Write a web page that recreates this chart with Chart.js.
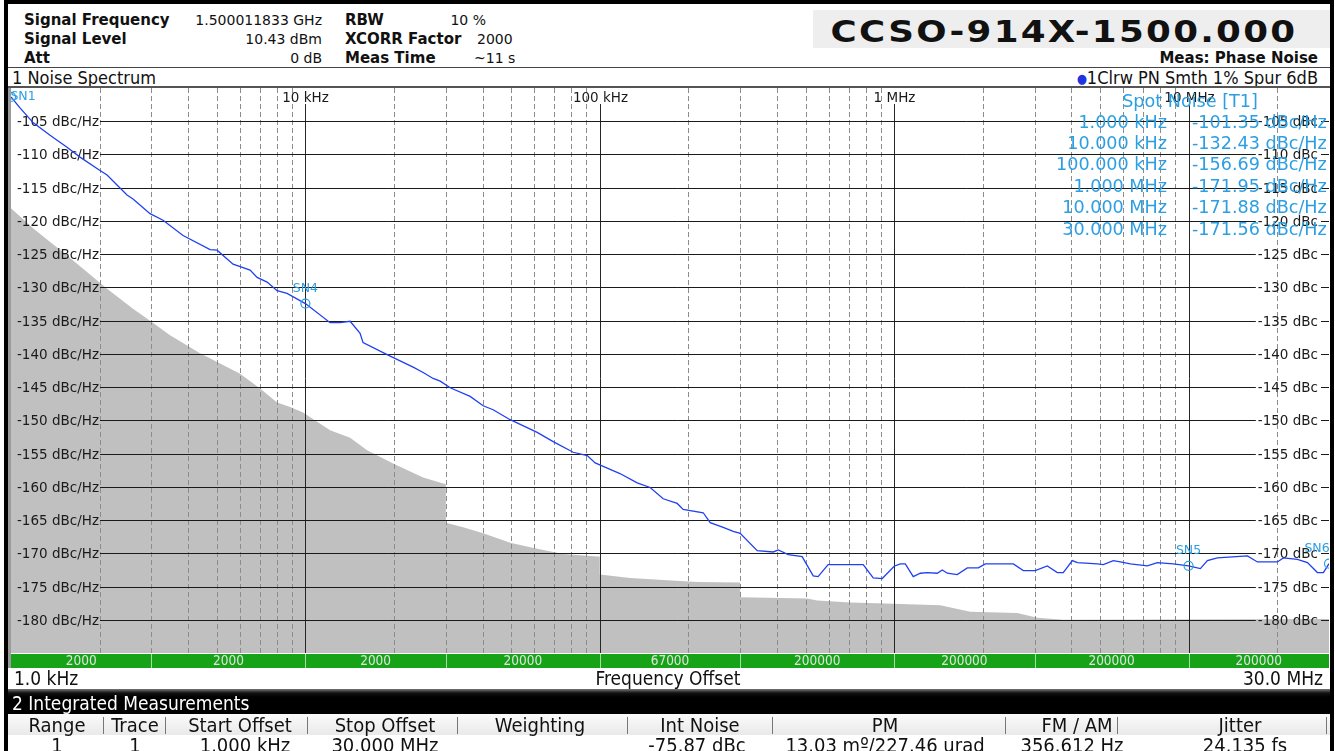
<!DOCTYPE html>
<html>
<head>
<meta charset="utf-8">
<title>CCSO-914X-1500.000 Phase Noise</title>
<script src="https://cdn.jsdelivr.net/npm/chart.js@4.4.1/dist/chart.umd.min.js"></script>
<style>
  body { margin: 0; background: #fff; }
  #page { position: relative; width: 1335px; height: 751px; overflow: hidden; background: #fff;
          font-family: "DejaVu Sans", sans-serif; color: #111; }
  .abs { position: absolute; white-space: nowrap; }
  .hd { font-size: 14px; line-height: 18px; }
  .b { font-weight: bold; font-size: 15px; }
  .ui { font-family: "DejaVu Sans Condensed", "Liberation Sans Narrow", "Liberation Sans", sans-serif; }
  .c { width: 240px; text-align: center; font-size: 20px; line-height: 22px; }
  .sep { position: absolute; top: 717px; width: 1px; height: 17px; background: #777; }
</style>
</head>
<body>
<div id="page">
  <!-- outer frame -->
  <div class="abs" style="left:4px;top:0;width:1330px;height:4px;background:#000"></div>
  <div class="abs" style="left:4px;top:0;width:4px;height:751px;background:#000"></div>
  <div class="abs" style="left:1330px;top:0;width:4px;height:751px;background:#000"></div>

  <!-- header -->
  <div class="abs hd b" style="left:24px;top:11px">Signal Frequency</div>
  <div class="abs hd" style="right:1013px;top:11px">1.500011833 GHz</div>
  <div class="abs hd b" style="left:24px;top:30px">Signal Level</div>
  <div class="abs hd" style="right:1013px;top:30px">10.43 dBm</div>
  <div class="abs hd b" style="left:24px;top:49px">Att</div>
  <div class="abs hd" style="right:1013px;top:49px">0 dB</div>
  <div class="abs hd b" style="left:345px;top:11px">RBW</div>
  <div class="abs hd" style="right:849px;top:11px">10 %</div>
  <div class="abs hd b" style="left:345px;top:30px">XCORR Factor</div>
  <div class="abs hd" style="left:477px;top:30px">2000</div>
  <div class="abs hd b" style="left:345px;top:49px">Meas Time</div>
  <div class="abs hd" style="left:474px;top:49px">~11 s</div>

  <div class="abs" style="left:813px;top:10px;width:517px;height:38px;background:#eeeeee"></div>
  <div class="abs" style="left:1064px;top:12px;font-weight:bold;font-size:31px;line-height:38px;letter-spacing:2px;transform:translateX(-50%) scaleX(1.15);color:#111">CCSO-914X-1500.000</div>
  <div class="abs hd b" style="right:17px;top:49px">Meas: Phase Noise</div>

  <div class="abs" style="left:8px;top:67px;width:1322px;height:1px;background:#444"></div>
  <div class="abs ui" style="left:12px;top:68px;font-size:18px;line-height:20px">1 Noise Spectrum</div>
  <div class="abs ui" style="right:17px;top:68px;font-size:18px;line-height:20px"><span style="color:#2233dd;font-size:13px;vertical-align:1px">●</span>1Clrw PN Smth 1% Spur 6dB</div>
  <div class="abs" style="left:8px;top:86px;width:1322px;height:2px;background:#555"></div>
  <div class="abs" style="left:8px;top:88px;width:3px;height:580px;background:#9a9a9a"></div>

  <div class="abs" style="left:11px;top:88px;width:1318px;height:580px">
    <canvas id="pn" width="1318" height="580"></canvas>
  </div>

  <!-- x axis caption row -->
  <div class="abs ui" style="left:14px;top:667px;font-size:19px;line-height:22px">1.0 kHz</div>
  <div class="abs ui" style="left:568px;top:667px;width:200px;text-align:center;font-size:19px;line-height:22px">Frequency Offset</div>
  <div class="abs ui" style="right:12px;top:667px;font-size:19px;line-height:22px">30.0 MHz</div>

  <!-- integrated measurements -->
  <div class="abs" style="left:8px;top:689px;width:1322px;height:25px;background:linear-gradient(#777 0px,#111 4px,#000 8px,#000)"></div>
  <div class="abs ui" style="left:12px;top:692px;font-size:19px;line-height:22px;color:#fff">2 Integrated Measurements</div>
  <div class="abs" style="left:8px;top:714px;width:1322px;height:21px;background:linear-gradient(#fbfbfb,#e9e9e9)"></div>

  <div class="abs ui c" style="left:-63px;top:714px">Range</div>
  <div class="abs ui c" style="left:15px;top:714px">Trace</div>
  <div class="abs ui c" style="left:120px;top:714px">Start Offset</div>
  <div class="abs ui c" style="left:265px;top:714px">Stop Offset</div>
  <div class="abs ui c" style="left:420px;top:714px">Weighting</div>
  <div class="abs ui c" style="left:580px;top:714px">Int Noise</div>
  <div class="abs ui c" style="left:765px;top:714px">PM</div>
  <div class="abs ui c" style="left:957px;top:714px">FM / AM</div>
  <div class="abs ui c" style="left:1120px;top:714px">Jitter</div>
  <div class="sep" style="left:103px"></div>
  <div class="sep" style="left:165px"></div>
  <div class="sep" style="left:307px"></div>
  <div class="sep" style="left:457px"></div>
  <div class="sep" style="left:627px"></div>
  <div class="sep" style="left:772px"></div>
  <div class="sep" style="left:1005px"></div>
  <div class="sep" style="left:1117px"></div>
  <div class="sep" style="left:1326px"></div>

  <div class="abs ui c" style="left:-63px;top:734px">1</div>
  <div class="abs ui c" style="left:15px;top:734px">1</div>
  <div class="abs ui c" style="left:125px;top:734px">1.000 kHz</div>
  <div class="abs ui c" style="left:265px;top:734px">30.000 MHz</div>
  <div class="abs ui c" style="left:577px;top:734px">-75.87 dBc</div>
  <div class="abs ui c" style="left:765px;top:734px">13.03 mº/227.46 urad</div>
  <div class="abs ui c" style="left:952px;top:734px">356.612 Hz</div>
  <div class="abs ui c" style="left:1125px;top:734px">24.135 fs</div>
</div>

<script>
// trace 1: phase noise, offset frequency in Hz, level in dBc/Hz
const traceFreq = [
  1000, 1073, 1188, 1357, 1550, 1716, 2006, 2120, 2292, 2478, 2597, 2967, 3285, 3841, 4746, 5012,
  5680, 6490, 6855, 7413, 8014, 8665, 10000, 12130, 13120, 14190, 15340, 15700, 18950, 23230, 25120,
  27160, 28710, 31040, 36270, 40170, 43430, 49610, 61290, 69450, 81220, 90630, 96470, 100000,
  117100, 134000, 148300, 164200, 183200, 192000, 224600, 237200, 262600, 284000, 299900, 342600,
  388400, 403900, 436600, 486900, 530900, 551600, 596600, 785000, 849000, 911000, 1000000, 1049000,
  1091000, 1161000, 1227000, 1296000, 1401000, 1457000, 1515000, 1638000, 1772000, 1931000,
  2040000, 2349000, 2540000, 2746000, 3016000, 3313000, 3583000, 3754000, 4030000, 4191000,
  4898000, 5134000, 5552000, 5865000, 6343000, 7244000, 7834000, 8879000, 10000000, 10970000,
  11590000, 12530000, 15850000, 17140000, 20040000, 21000000, 23430000, 25350000, 27400000,
  28710000, 30000000
];
const traceLevel = [
  -101.35, -103.0, -105.2, -107.1, -108.9, -110.4, -112.4, -113.1, -114.6, -116.1, -116.7, -118.9, -119.9, -122.2, -124.3, -124.4,
  -126.5, -127.4, -128.5, -129.2, -130.5, -130.9, -132.43, -135.3, -135.3, -135.1, -136.9, -138.3, -140.1, -142.0, -142.8,
  -143.7, -144.1, -145.1, -146.4, -147.8, -148.4, -149.9, -151.8, -153.2, -154.8, -155.3, -156.4, -156.69,
  -158.0, -159.4, -160.1, -161.8, -162.5, -163.4, -163.9, -165.4, -166.1, -166.7, -167.0, -169.6,
  -169.8, -169.5, -170.2, -170.5, -173.4, -173.5, -171.7, -171.7, -173.7, -173.8, -171.95, -171.6,
  -171.6, -173.5, -173.0, -172.9, -173.0, -172.5, -173.0, -173.2, -172.2, -172.2,
  -171.6, -171.6, -171.6, -172.6, -172.6, -171.9, -172.9, -172.9, -171.1, -171.4,
  -171.6, -171.7, -171.1, -171.3, -171.6, -171.9, -171.4, -171.6, -171.88, -172.3,
  -171.1, -170.7, -170.4, -171.3, -171.3, -170.7, -170.9, -171.4, -172.9,
  -172.9, -171.56
];

// cross-correlation floor (grey area)
const floorFreq = [
  1000, 1188, 1550, 1812, 2120, 2597, 2967, 3470, 4387, 6001, 7018, 8014, 8872, 9822, 12130, 14190,
  16200, 19860, 25120, 29380, 30000, 30000, 34350, 40170, 49610, 61290, 75080, 98000, 100000, 100000,
  126900, 164200, 214300, 295300, 300000, 300000, 370600, 506800, 547900, 709300, 993000, 1434000,
  1814000, 2620000, 3064000, 3754000, 30000000
];
const floorLevel = [
  -118.1, -121.1, -125.2, -127.7, -130.2, -133.2, -135.0, -137.2, -139.9, -143.0, -145.2, -147.3, -148.0, -148.8, -151.5, -152.6,
  -154.5, -156.5, -158.6, -159.5, -159.6, -165.4, -166.1, -167.0, -168.4, -169.3, -170.1, -170.5, -170.5, -173.2,
  -173.7, -174.0, -174.3, -174.4, -174.4, -176.6, -176.7, -176.8, -177.1, -177.4, -177.6, -177.8,
  -178.8, -179.0, -179.7, -180.0, -179.9
];

const minorGridFreq = [
  2000, 3000, 4000, 5000, 6000, 7000, 8000, 9000,
  20000, 30000, 40000, 50000, 60000, 70000, 80000, 90000,
  200000, 300000, 400000, 500000, 600000, 700000, 800000, 900000,
  2000000, 3000000, 4000000, 5000000, 6000000, 7000000, 8000000, 9000000,
  20000000
];
const decadeFreq = [10000, 100000, 1000000, 10000000];
const decadeLabels = ['10 kHz', '100 kHz', '1 MHz', '10 MHz'];
const levelTicks = [-105, -110, -115, -120, -125, -130, -135, -140, -145, -150, -155, -160, -165, -170, -175, -180];

const spotFreqLabels = ['1.000 kHz', '10.000 kHz', '100.000 kHz', '1.000 MHz', '10.000 MHz', '30.000 MHz'];
const spotLevels = [-101.35, -132.43, -156.69, -171.95, -171.88, -171.56];

const markerNames = ['SN1', 'SN4', 'SN5', 'SN6'];
const markerFreq = [1000, 10000, 10000000, 30000000];
const markerLevel = [-101.35, -132.43, -171.88, -171.56];

const rbwEdges = [1000, 3000, 10000, 30000, 100000, 300000, 1000000, 3000000, 10000000, 30000000];
const rbwLabels = ['2000', '2000', '2000', '20000', '67000', '200000', '200000', '200000', '200000'];

const SANS = '"DejaVu Sans", sans-serif';
const COND = '"DejaVu Sans Condensed", "Liberation Sans Narrow", "Liberation Sans", sans-serif';
const MARK_BLUE = '#2b9fe2';

function seg(ctx, x1, y1, x2, y2) {
  ctx.beginPath();
  ctx.moveTo(x1, y1);
  ctx.lineTo(x2, y2);
  ctx.stroke();
}

// grid and axis labels sit on top of the grey floor but under the trace
function drawGrid(chart) {
  const { ctx, chartArea: a, scales: { x, y } } = chart;
  ctx.save();
  ctx.lineWidth = 1;

  ctx.strokeStyle = '#8c8c8c';
  ctx.setLineDash([5, 3]);
  minorGridFreq.forEach(f => {
    const px = Math.round(x.getPixelForValue(f)) + 0.5;
    seg(ctx, px, a.top, px, a.bottom);
  });
  ctx.setLineDash([]);

  ctx.font = '13.5px ' + SANS;
  ctx.fillStyle = '#1a1a1a';
  ctx.textBaseline = 'middle';

  ctx.strokeStyle = '#262626';
  ctx.textAlign = 'center';
  decadeFreq.forEach((f, i) => {
    const px = Math.round(x.getPixelForValue(f)) + 0.5;
    seg(ctx, px, a.top + 16, px, a.bottom);
    ctx.fillText(decadeLabels[i], px, a.top + 10);
  });

  levelTicks.forEach(v => {
    const py = Math.round(y.getPixelForValue(v)) + 0.5;
    const leftTxt = v + ' dBc/Hz';
    const rightTxt = v + ' dBc';
    ctx.textAlign = 'left';
    ctx.fillText(leftTxt, a.left + 6, py + 1);
    const lw = ctx.measureText(leftTxt).width;
    ctx.textAlign = 'right';
    ctx.fillText(rightTxt, a.right - 11, py + 1);
    const rw = ctx.measureText(rightTxt).width;
    ctx.strokeStyle = '#1a1a1a';
    seg(ctx, a.left + 6 + lw + 1, py, a.right - 11 - rw - 2, py);
    seg(ctx, a.right - 8, py, a.right, py);
  });
  ctx.restore();
}

function drawMarkers(chart) {
  const { ctx, chartArea: a, scales: { x, y } } = chart;
  ctx.save();
  ctx.strokeStyle = MARK_BLUE;
  ctx.fillStyle = MARK_BLUE;
  ctx.lineWidth = 1.2;
  ctx.font = '12.5px ' + SANS;
  ctx.textAlign = 'center';
  ctx.textBaseline = 'middle';
  markerNames.forEach((name, i) => {
    const px = x.getPixelForValue(markerFreq[i]);
    const py = y.getPixelForValue(markerLevel[i]);
    ctx.beginPath();
    ctx.arc(px, py, 4.5, 0, Math.PI * 2);
    ctx.stroke();
    const lx = Math.min(Math.max(px, a.left + 12), a.right - 12);
    const ly = Math.max(py - 15, a.top + 9);
    ctx.fillText(name, lx, ly);
  });
  ctx.restore();
}

function drawSpotTable(chart) {
  const { ctx, chartArea: a } = chart;
  ctx.save();
  ctx.fillStyle = MARK_BLUE;
  ctx.font = '17.6px ' + SANS;
  ctx.textBaseline = 'middle';
  ctx.textAlign = 'center';
  ctx.fillText('Spot Noise [T1]', a.right - 139, a.top + 14);
  spotFreqLabels.forEach((lbl, i) => {
    const ty = a.top + 35 + i * 21.4;
    ctx.textAlign = 'right';
    ctx.fillText(lbl, a.right - 162, ty);
    ctx.textAlign = 'left';
    ctx.fillText(spotLevels[i].toFixed(2) + ' dBc/Hz', a.right - 137, ty);
  });
  ctx.restore();
}

function drawRbwBar(chart) {
  const { ctx, chartArea: a, scales: { x } } = chart;
  const top = a.bottom + 1, h = 14;
  ctx.save();
  ctx.fillStyle = '#17a317';
  ctx.fillRect(a.left, top, a.right - a.left, h);
  ctx.strokeStyle = '#a6dca6';
  ctx.lineWidth = 1;
  ctx.font = '13.5px ' + COND;
  ctx.textAlign = 'center';
  ctx.textBaseline = 'middle';
  for (let i = 0; i < rbwLabels.length; i++) {
    const x1 = x.getPixelForValue(rbwEdges[i]);
    const x2 = x.getPixelForValue(rbwEdges[i + 1]);
    if (i > 0) seg(ctx, Math.round(x1) + 0.5, top, Math.round(x1) + 0.5, top + h);
    ctx.fillStyle = '#e2e2e2';
    ctx.fillText(rbwLabels[i], (x1 + x2) / 2, top + h / 2 + 0.5);
  }
  ctx.restore();
}

const scopePlugin = {
  id: 'scope',
  afterDatasetDraw(chart, args) {
    if (args.index === 1) drawGrid(chart);
  },
  afterDatasetsDraw(chart) {
    drawMarkers(chart);
    drawSpotTable(chart);
    drawRbwBar(chart);
  }
};

new Chart(document.getElementById('pn'), {
  type: 'line',
  data: {
    datasets: [
      {
        label: '1Clrw PN Smth 1% Spur 6dB',
        data: traceFreq.map((f, i) => ({ x: f, y: traceLevel[i] })),
        borderColor: '#2040f0',
        borderWidth: 1.3,
        pointRadius: 0,
        fill: false,
        tension: 0
      },
      {
        label: 'XCORR floor',
        data: floorFreq.map((f, i) => ({ x: f, y: floorLevel[i] })),
        borderColor: 'rgba(0,0,0,0)',
        borderWidth: 0,
        backgroundColor: '#c0c0c0',
        fill: 'start',
        pointRadius: 0,
        tension: 0
      }
    ]
  },
  options: {
    responsive: false,
    animation: false,
    events: [],
    layout: { padding: { left: 0, right: 0, top: 0, bottom: 15 } },
    scales: {
      x: { type: 'logarithmic', min: 1000, max: 30000000, display: false },
      y: { type: 'linear', min: -185, max: -100, display: false }
    },
    plugins: { legend: { display: false }, tooltip: { enabled: false } }
  },
  plugins: [scopePlugin]
});
</script>
</body>
</html>
